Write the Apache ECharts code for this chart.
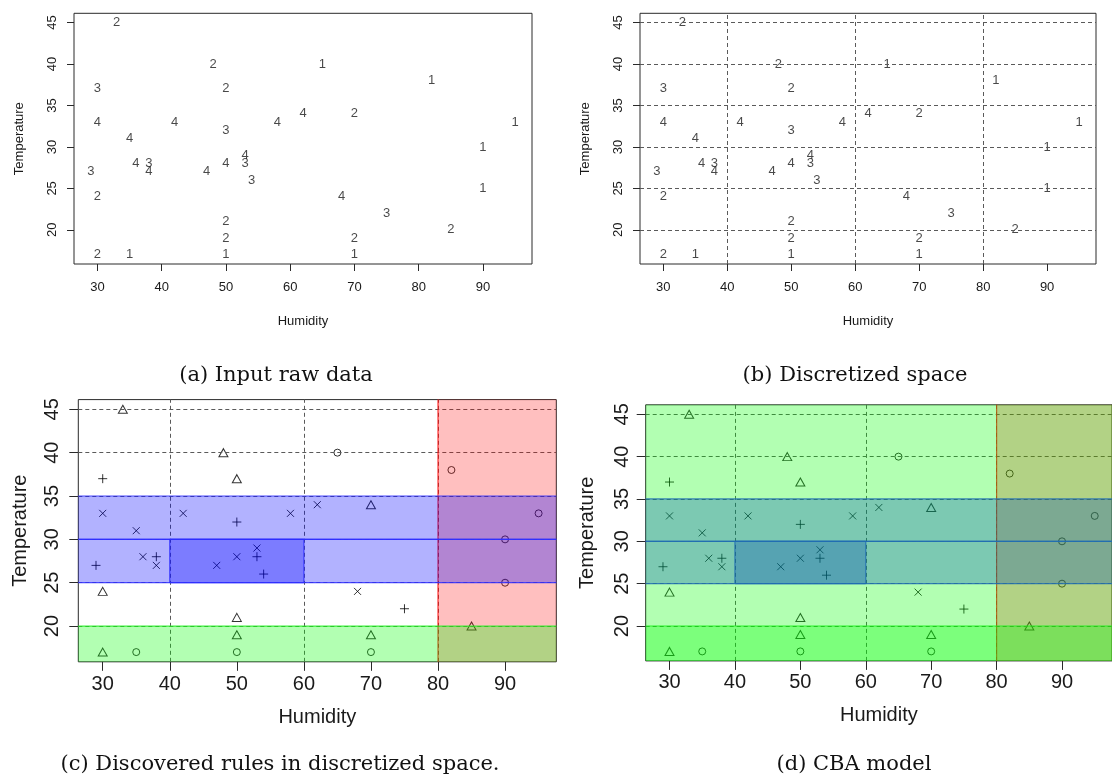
<!DOCTYPE html>
<html>
<head>
<meta charset="utf-8">
<script src="https://cdn.jsdelivr.net/npm/echarts@6/dist/echarts.min.js"></script>
<style>
  html, body { margin: 0; padding: 0; background: #ffffff; }
  #chart { width: 1112px; height: 782px; }
</style>
</head>
<body>
<div id="chart"></div>
<script>
// ---- Observations: humidity, temperature and class label (1-4) ----
const humidity    = [33, 48, 65, 82, 30, 50, 62, 70, 30, 42, 58, 95, 50, 35, 90, 53, 36, 38, 50, 53, 29, 38, 47, 54, 90, 30, 68, 75, 50, 85, 50, 70, 30, 35, 50, 70];
const temperature = [45, 40, 40, 38, 37, 37, 34, 34, 33, 33, 33, 33, 32, 31, 30, 29, 28, 28, 28, 28, 27, 27, 27, 26, 25, 24, 24, 22, 21, 20, 19, 19, 17, 17, 17, 17];
const classLabel  = [ 2,  2,  1,  1,  3,  2,  4,  2,  4,  4,  4,  1,  3,  4,  1,  4,  4,  3,  4,  3,  3,  4,  4,  3,  1,  2,  4,  3,  2,  2,  2,  2,  2,  1,  1,  1];

// ---- Axis tick labels ----
const humidityTicks    = [30, 40, 50, 60, 70, 80, 90];
const temperatureTicks = [20, 25, 30, 35, 40, 45];

// ---- Discretization cut points ----
const humidityCuts    = [40, 60, 80];
const temperatureCuts = [20, 25, 30, 35, 40, 45];

// ---- Rules: interval bounds (null = unbounded) and predicted class ----
const ruleHumidityFrom    = [80, null, null, 40, null];
const ruleHumidityTo      = [null, null, null, 60, null];
const ruleTemperatureFrom = [null, 25, 30, 25, null];
const ruleTemperatureTo   = [null, 30, 35, 30, 20];
const ruleClass           = [1, 4, 4, 4, 2];
const defaultClass        = 2;

// ---- Sub-figure captions ----
const captions = ['(a) Input raw data', '(b) Discretized space', '(c) Discovered rules in discretized space.', '(d) CBA model'];

// ---- Styling ----
const SANS = 'Liberation Sans, Arial, sans-serif';
const SERIF = 'DejaVu Serif, Liberation Serif, serif';
const INK = '#1a1a1a';
const classFill   = { 1: 'rgba(255,0,0,0.25)', 2: 'rgba(0,255,0,0.3)', 4: 'rgba(0,0,255,0.3)' };
const classStroke = { 1: '#ff1010', 2: '#22ee22', 4: '#3030ff' };
const classSymbol = {
  1: 'circle',
  2: 'triangle',
  3: 'path://M5,0L5,10M0,5L10,5',
  4: 'path://M0,0L10,10M10,0L0,10'
};
const classSymbolSize = { 1: [7, 7], 2: [9, 8], 3: [9, 9], 4: [7, 7] };
const captionPos = [[276, 376], [855, 376], [280, 765], [854, 765]];

const panels = [
  { left: 74,    top: 13.3,  width: 458, height: 250.7, font: 13, tick: 7, xMargin: 17, yMargin: 15, xNameGap: 51, yNameGap: 48 },
  { left: 640,   top: 13.3,  width: 456, height: 250.7, font: 13, tick: 7, xMargin: 17, yMargin: 15, xNameGap: 51, yNameGap: 48 },
  { left: 78.3,  top: 399.6, width: 478, height: 262.2, font: 20, tick: 9, xMargin: 13, yMargin: 16, xNameGap: 46, yNameGap: 48 },
  { left: 645.7, top: 404.8, width: 468, height: 256.1, font: 20, tick: 9, xMargin: 12, yMargin: 13, xNameGap: 45, yNameGap: 48 }
];

// R-style axis range: data extent widened by 4% on each side
function paddedRange(arr) {
  const lo = Math.min(...arr), hi = Math.max(...arr), d = (hi - lo) * 0.04;
  return [lo - d, hi + d];
}
const humRange = paddedRange(humidity);
const tmpRange = paddedRange(temperature);

const grid = panels.map(p => ({
  left: p.left, top: p.top, width: p.width, height: p.height,
  show: true, borderColor: '#2a2a2a', borderWidth: 1, backgroundColor: 'transparent',
  containLabel: false
}));

const xAxis = panels.map((p, i) => ({
  type: 'value', gridIndex: i, min: humRange[0], max: humRange[1],
  name: 'Humidity', nameLocation: 'middle', nameGap: p.xNameGap,
  nameTextStyle: { fontSize: p.font, fontFamily: SANS, color: INK },
  axisLine: { show: false },
  axisTick: { show: true, length: p.tick, lineStyle: { color: '#2a2a2a' }, customValues: humidityTicks },
  axisLabel: { customValues: humidityTicks, fontSize: p.font, fontFamily: SANS, color: INK, margin: p.xMargin },
  splitLine: { show: false }
}));

const yAxis = panels.map((p, i) => ({
  type: 'value', gridIndex: i, min: tmpRange[0], max: tmpRange[1],
  name: 'Temperature', nameLocation: 'middle', nameGap: p.yNameGap, nameRotate: 90,
  nameTextStyle: { fontSize: p.font, fontFamily: SANS, color: INK },
  axisLine: { show: false },
  axisTick: { show: true, length: p.tick, lineStyle: { color: '#2a2a2a' }, customValues: temperatureTicks },
  axisLabel: { customValues: temperatureTicks, rotate: 90, fontSize: p.font, fontFamily: SANS, color: INK, margin: p.yMargin },
  splitLine: { show: false }
}));

const points = humidity.map((h, i) => [h, temperature[i], classLabel[i]]);

const cutLines = {
  silent: true, symbol: ['none', 'none'], animation: false,
  label: { show: false },
  lineStyle: { type: [4, 3], color: '#5a5a5a', width: 1 },
  emphasis: { disabled: true },
  data: humidityCuts.map(v => ({ xAxis: v })).concat(temperatureCuts.map(v => ({ yAxis: v })))
};

function labelSeries(idx, withCuts) {
  const s = {
    type: 'scatter', xAxisIndex: idx, yAxisIndex: idx, data: points,
    symbol: 'circle', symbolSize: 1, silent: true,
    itemStyle: { color: 'transparent' },
    label: {
      show: true, position: 'inside', formatter: p => String(p.value[2]),
      fontSize: 13, fontFamily: SANS, color: INK
    }
  };
  if (withCuts) s.markLine = cutLines;
  return s;
}

function symbolSeries(idx) {
  return {
    type: 'scatter', xAxisIndex: idx, yAxisIndex: idx, data: points, silent: true,
    symbol: v => classSymbol[v[2]],
    symbolSize: v => classSymbolSize[v[2]],
    itemStyle: { color: 'transparent', borderColor: '#000', borderWidth: 1 },
    markLine: cutLines
  };
}

// Rule rectangles, clipped to the plotting region; unbounded sides extend past it
function renderRule(params, api) {
  const i = params.dataIndex;
  const cs = params.coordSys;
  const pad = 20;
  const x0 = cs.x, x1 = cs.x + cs.width, y0 = cs.y, y1 = cs.y + cs.height;
  const midT = (tmpRange[0] + tmpRange[1]) / 2, midH = (humRange[0] + humRange[1]) / 2;
  const left   = ruleHumidityFrom[i]    == null ? x0 - pad : api.coord([ruleHumidityFrom[i], midT])[0];
  const right  = ruleHumidityTo[i]      == null ? x1 + pad : api.coord([ruleHumidityTo[i], midT])[0];
  const top    = ruleTemperatureTo[i]   == null ? y0 - pad : api.coord([midH, ruleTemperatureTo[i]])[1];
  const bottom = ruleTemperatureFrom[i] == null ? y1 + pad : api.coord([midH, ruleTemperatureFrom[i]])[1];
  const fl = Math.max(left, x0), fr = Math.min(right, x1), ft = Math.max(top, y0), fb = Math.min(bottom, y1);
  const c = ruleClass[i];
  const children = [{
    type: 'rect', shape: { x: fl, y: ft, width: fr - fl, height: fb - ft },
    style: { fill: classFill[c], stroke: null }
  }];
  const edge = (ax, ay, bx, by) => children.push({
    type: 'line', shape: { x1: ax, y1: ay, x2: bx, y2: by },
    style: { stroke: classStroke[c], lineWidth: 1.2, opacity: 0.85 }
  });
  if (ruleHumidityFrom[i] != null) edge(left, ft, left, fb);
  if (ruleHumidityTo[i] != null) edge(right, ft, right, fb);
  if (ruleTemperatureTo[i] != null) edge(fl, top, fr, top);
  if (ruleTemperatureFrom[i] != null) edge(fl, bottom, fr, bottom);
  return { type: 'group', children };
}

function ruleSeries(idx) {
  return {
    type: 'custom', xAxisIndex: idx, yAxisIndex: idx, silent: true, z: 10,
    data: ruleClass.map((c, i) => [i, c]),
    renderItem: renderRule
  };
}

// Default-class layer covering the whole plotting region
function defaultSeries(idx) {
  return {
    type: 'custom', xAxisIndex: idx, yAxisIndex: idx, silent: true, z: 12,
    data: [[0, defaultClass]],
    renderItem: (params, api) => {
      const cs = params.coordSys;
      return {
        type: 'rect', shape: { x: cs.x, y: cs.y, width: cs.width, height: cs.height },
        style: { fill: classFill[api.value(1)], stroke: null }
      };
    }
  };
}

const option = {
  animation: false,
  backgroundColor: '#ffffff',
  grid, xAxis, yAxis,
  series: [
    labelSeries(0, false),
    labelSeries(1, true),
    symbolSeries(2),
    ruleSeries(2),
    symbolSeries(3),
    ruleSeries(3),
    defaultSeries(3)
  ],
  graphic: captions.map((t, i) => ({
    type: 'text', x: captionPos[i][0], y: captionPos[i][1], silent: true,
    style: {
      text: t, fontSize: 21, fontFamily: SERIF, fill: '#111',
      textAlign: 'center', textVerticalAlign: 'middle', align: 'center', verticalAlign: 'middle'
    }
  }))
};

const chart = echarts.init(document.getElementById('chart'), null, { renderer: 'canvas' });
chart.setOption(option);
</script>
</body>
</html>
